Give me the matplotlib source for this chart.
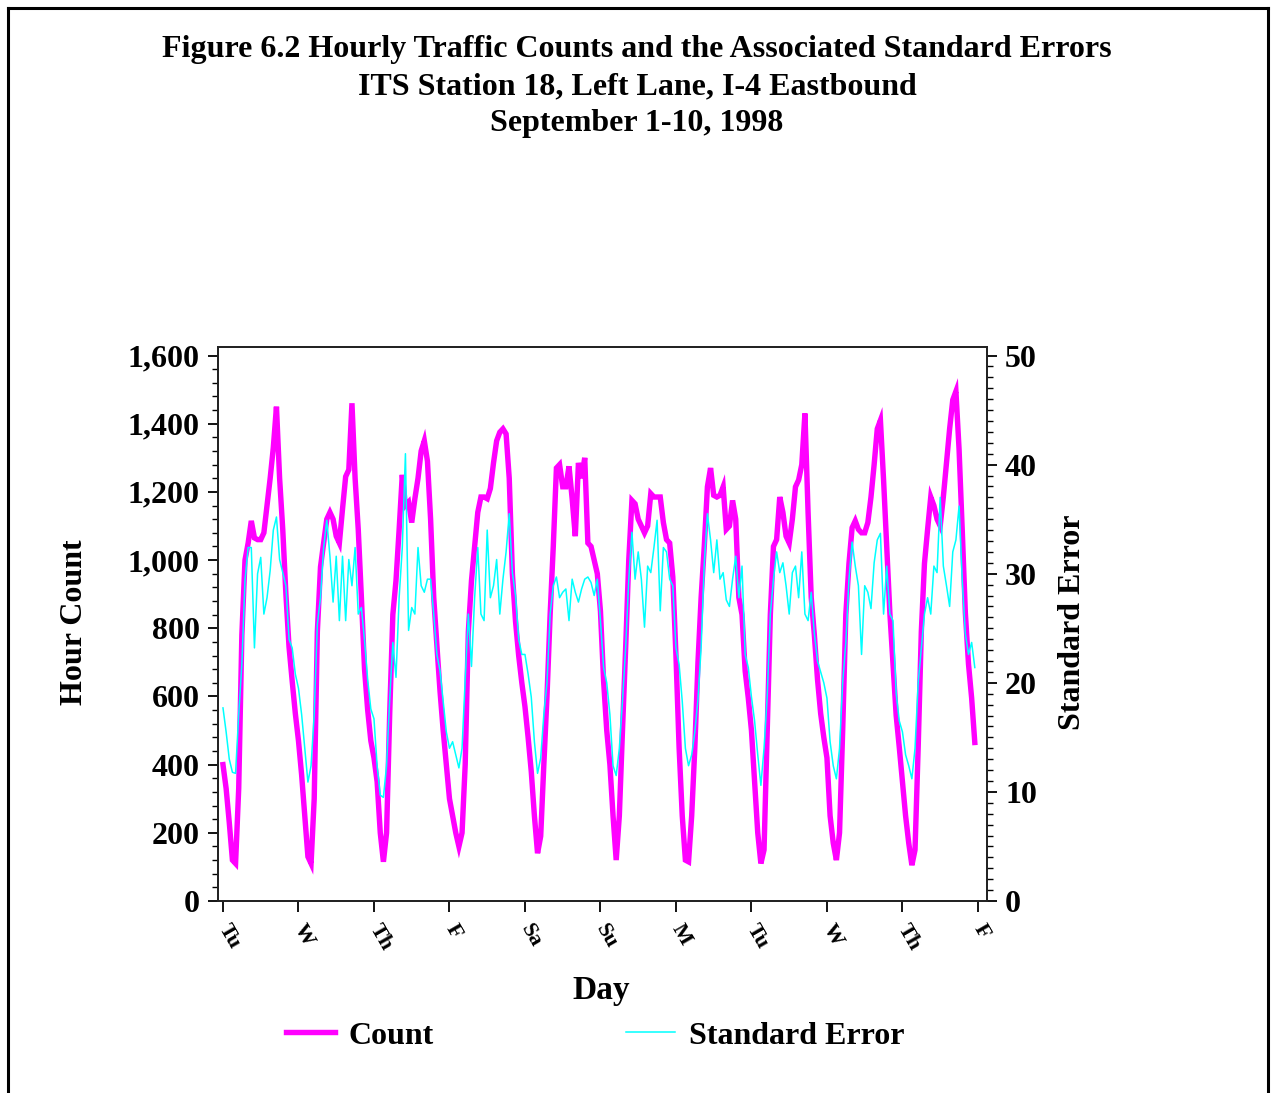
import numpy as np
import matplotlib
matplotlib.use("Agg")
import matplotlib.pyplot as plt
from matplotlib.lines import Line2D
from matplotlib.ticker import MultipleLocator, FuncFormatter

plt.rcParams['font.family'] = ['Liberation Serif', 'DejaVu Serif']
plt.rcParams['font.weight'] = 'bold'

# ---------------- data (hourly, Tue Sep 1 00h .. Thu Sep 10 23h) ----------------
day_labels = ["Tu", "W", "Th", "F", "Sa", "Su", "M", "Tu", "W", "Th", "F"]

count_tu1 = [400, 330, 230, 120, 110, 330, 780, 1000, 1050, 1115, 1065, 1060,
             1060, 1080, 1160, 1240, 1330, 1450, 1240, 1090, 900, 745, 645, 550]
count_w1 = [470, 370, 250, 130, 110, 300, 790, 980, 1050, 1120, 1140, 1120,
            1070, 1050, 1150, 1245, 1265, 1460, 1240, 1090, 890, 680, 560, 470]
count_th1 = [420, 350, 200, 115, 200, 550, 840, 940, 1090, 1250, 1160, 1170,
             1110, 1180, 1240, 1320, 1350, 1290, 1120, 890, 750, 615, 500, 400]
count_f1 = [300, 250, 200, 160, 200, 400, 790, 940, 1040, 1140, 1185, 1185,
            1180, 1210, 1285, 1350, 1375, 1385, 1370, 1240, 960, 820, 720, 640]
count_sa1 = [570, 480, 380, 250, 140, 190, 400, 600, 840, 1040, 1270, 1280,
             1215, 1215, 1275, 1180, 1070, 1285, 1240, 1300, 1050, 1040, 1000, 960]
count_su1 = [850, 645, 500, 400, 250, 120, 250, 500, 740, 1000, 1175, 1165,
             1120, 1100, 1080, 1100, 1195, 1185, 1185, 1185, 1110, 1060, 1050, 950]
count_m1 = [720, 450, 250, 120, 115, 250, 450, 700, 890, 1040, 1215, 1270,
            1190, 1185, 1190, 1215, 1090, 1100, 1175, 1120, 890, 840, 675, 595]
count_tu2 = [500, 350, 200, 110, 150, 500, 840, 1040, 1060, 1185, 1140, 1070,
             1050, 1120, 1215, 1235, 1280, 1430, 1140, 890, 780, 650, 550, 480]
count_w2 = [420, 250, 170, 120, 200, 500, 840, 990, 1095, 1115, 1090, 1080,
            1080, 1110, 1185, 1280, 1385, 1410, 1235, 1040, 845, 695, 545, 450]
count_th2 = [350, 250, 170, 105, 150, 450, 790, 990, 1090, 1185, 1160, 1120,
             1100, 1185, 1285, 1385, 1470, 1495, 1325, 1090, 845, 695, 595, 465]

se_tu1 = [17.7, 15.5, 13.0, 11.8, 11.7, 17.1, 21.7, 29.4, 32.4, 32.4, 23.2, 30.0,
          31.5, 26.3, 27.8, 30.3, 34.0, 35.2, 31.3, 30.1, 28.9, 24.0, 23.2, 20.8]
se_w1 = [19.5, 17.1, 14.0, 10.9, 12.4, 17.1, 25.4, 27.8, 32.4, 34.9, 31.6, 27.4,
         31.6, 25.7, 31.6, 25.7, 31.3, 28.9, 32.4, 26.3, 26.9, 23.9, 20.3, 17.6]
se_th1 = [16.7, 12.4, 9.7, 9.5, 12.4, 18.5, 23.7, 20.5, 27.8, 32.4, 41.0, 24.8,
          26.9, 26.3, 32.4, 28.9, 28.3, 29.5, 29.5, 26.3, 22.6, 21.1, 18.3, 15.5]
se_f1 = [14.0, 14.6, 13.4, 12.2, 14.0, 20.3, 26.3, 21.5, 27.8, 32.4, 26.3, 25.7,
         34.0, 27.8, 28.9, 31.3, 26.3, 29.5, 32.0, 35.5, 30.1, 28.0, 24.0, 22.6]
se_sa1 = [22.6, 20.8, 18.7, 14.6, 11.7, 13.1, 17.1, 20.0, 26.3, 28.9, 29.7, 27.8,
          28.3, 28.6, 25.7, 29.5, 28.3, 27.4, 28.6, 29.5, 29.7, 29.2, 28.0, 29.5]
se_su1 = [25.7, 21.4, 20.0, 17.1, 12.4, 11.5, 14.0, 18.3, 23.2, 29.5, 33.8, 29.5,
          32.0, 29.5, 25.1, 30.7, 30.1, 32.4, 34.9, 26.6, 32.4, 32.0, 29.5, 28.9]
se_m1 = [23.2, 21.7, 18.3, 14.0, 12.4, 13.4, 15.5, 18.5, 23.2, 30.9, 35.5, 33.1,
         30.1, 33.1, 29.5, 30.1, 27.6, 27.0, 29.5, 31.6, 27.8, 30.7, 22.6, 21.4]
se_tu2 = [18.7, 16.5, 13.4, 10.6, 14.0, 18.7, 26.3, 29.5, 32.0, 30.1, 31.0, 28.9,
          26.3, 30.1, 30.7, 27.8, 32.0, 26.3, 25.7, 28.3, 24.5, 22.0, 21.0, 20.0]
se_w2 = [18.6, 14.6, 12.4, 11.2, 14.0, 20.0, 23.7, 29.5, 32.9, 30.7, 28.9, 22.6,
         28.9, 28.3, 26.8, 31.0, 33.1, 33.7, 26.3, 30.7, 26.3, 25.7, 19.0, 16.5]
se_th2 = [15.5, 13.4, 12.4, 11.2, 14.0, 20.0, 23.2, 26.3, 27.8, 26.3, 30.7, 30.1,
          37.0, 30.7, 28.9, 27.0, 32.0, 33.1, 36.2, 29.5, 24.5, 22.6, 23.7, 21.4]

count = np.concatenate([count_tu1, count_w1, count_th1, count_f1, count_sa1,
                        count_su1, count_m1, count_tu2, count_w2, count_th2])
se = np.concatenate([se_tu1, se_w1, se_th1, se_f1, se_sa1,
                     se_su1, se_m1, se_tu2, se_w2, se_th2])
t = np.arange(len(count)) / 24.0   # days since Tue 00:00

# ---------------- figure ----------------
W, H = 1275, 1093
fig = plt.figure(figsize=(W / 100, H / 100), dpi=100)

def fx(px):
    return px / W

def fy(py):
    return 1 - py / H

ax_l, ax_r, ax_t, ax_b = 218, 987, 347, 901
ax = fig.add_axes([fx(ax_l), fy(ax_b), fx(ax_r) - fx(ax_l), fy(ax_t) - fy(ax_b)])
ax2 = ax.twinx()

ax.plot(t, count, color='#FF00FF', lw=3.9, solid_joinstyle='miter', zorder=2)
ax2.plot(t, se, color='#00FFFF', lw=1.1, zorder=3)

ax.set_xlim(-0.066, 10.12)
ax.set_ylim(0, 1625)
ax2.set_ylim(0, 1625 / 32.0)

ax.set_xticks(np.arange(len(day_labels)))
ax.set_xticklabels(day_labels, rotation=-60, ha='left', va='center',
                   rotation_mode='anchor', fontsize=16, fontweight='bold')
ax.set_yticks(np.arange(0, 1601, 200))
ax.yaxis.set_major_formatter(FuncFormatter(lambda v, p: f"{int(v):,}"))
ax.yaxis.set_minor_locator(MultipleLocator(40))
ax2.set_yticks(np.arange(0, 51, 10))
ax2.yaxis.set_minor_locator(MultipleLocator(1))

for a in (ax, ax2):
    for s in a.spines.values():
        s.set_linewidth(1.3)
        s.set_color('#222222')
ax.tick_params(axis='y', which='major', direction='out', length=7, width=1.3,
               labelsize=23, pad=6)
ax.tick_params(axis='y', which='minor', direction='out', length=4, width=1.0)
ax.tick_params(axis='x', which='major', direction='out', length=8, width=1.3, pad=10)
ax2.tick_params(axis='y', which='major', direction='out', length=7, width=1.3,
                labelsize=23, pad=6)
ax2.tick_params(axis='y', which='minor', direction='out', length=4, width=1.0)
for lbl in ax.get_yticklabels() + ax2.get_yticklabels():
    lbl.set_fontweight('bold')

# titles and axis labels
title_lines = ["Figure 6.2 Hourly Traffic Counts and the Associated Standard Errors",
               "ITS Station 18, Left Lane, I-4 Eastbound",
               "September 1-10, 1998"]
for line, py in zip(title_lines, [50, 87, 124]):
    fig.text(fx(637), fy(py), line, ha='center', va='center', fontsize=23,
             fontweight='bold')

fig.text(fx(75), fy(622), "Hour Count", rotation=90, ha='center', va='center',
         fontsize=23, fontweight='bold')
fig.text(fx(1072), fy(622), "Standard Error", rotation=90, ha='center', va='center',
         fontsize=23, fontweight='bold')
fig.text(fx(601), fy(990), "Day", ha='center', va='center', fontsize=24,
         fontweight='bold')

# legend
handles = [Line2D([], [], color='#FF00FF', lw=3.9),
           Line2D([], [], color='#00FFFF', lw=1.1)]
fig.legend(handles, ["Count", "Standard Error"], loc='center',
           bbox_to_anchor=(fx(595), fy(1036)), ncol=2, frameon=False,
           prop={'size': 23, 'weight': 'bold'}, handlelength=1.55,
           handletextpad=0.42, columnspacing=6.0)

# page border (left, top, right)
border_kw = dict(color='black', lw=2.2, transform=fig.transFigure)
fig.add_artist(Line2D([fx(8), fx(8)], [0, fy(8)], **border_kw))
fig.add_artist(Line2D([fx(8), fx(1268)], [fy(8), fy(8)], **border_kw))
fig.add_artist(Line2D([fx(1268), fx(1268)], [fy(8), 0], **border_kw))

fig.savefig("out.png", dpi=100)
